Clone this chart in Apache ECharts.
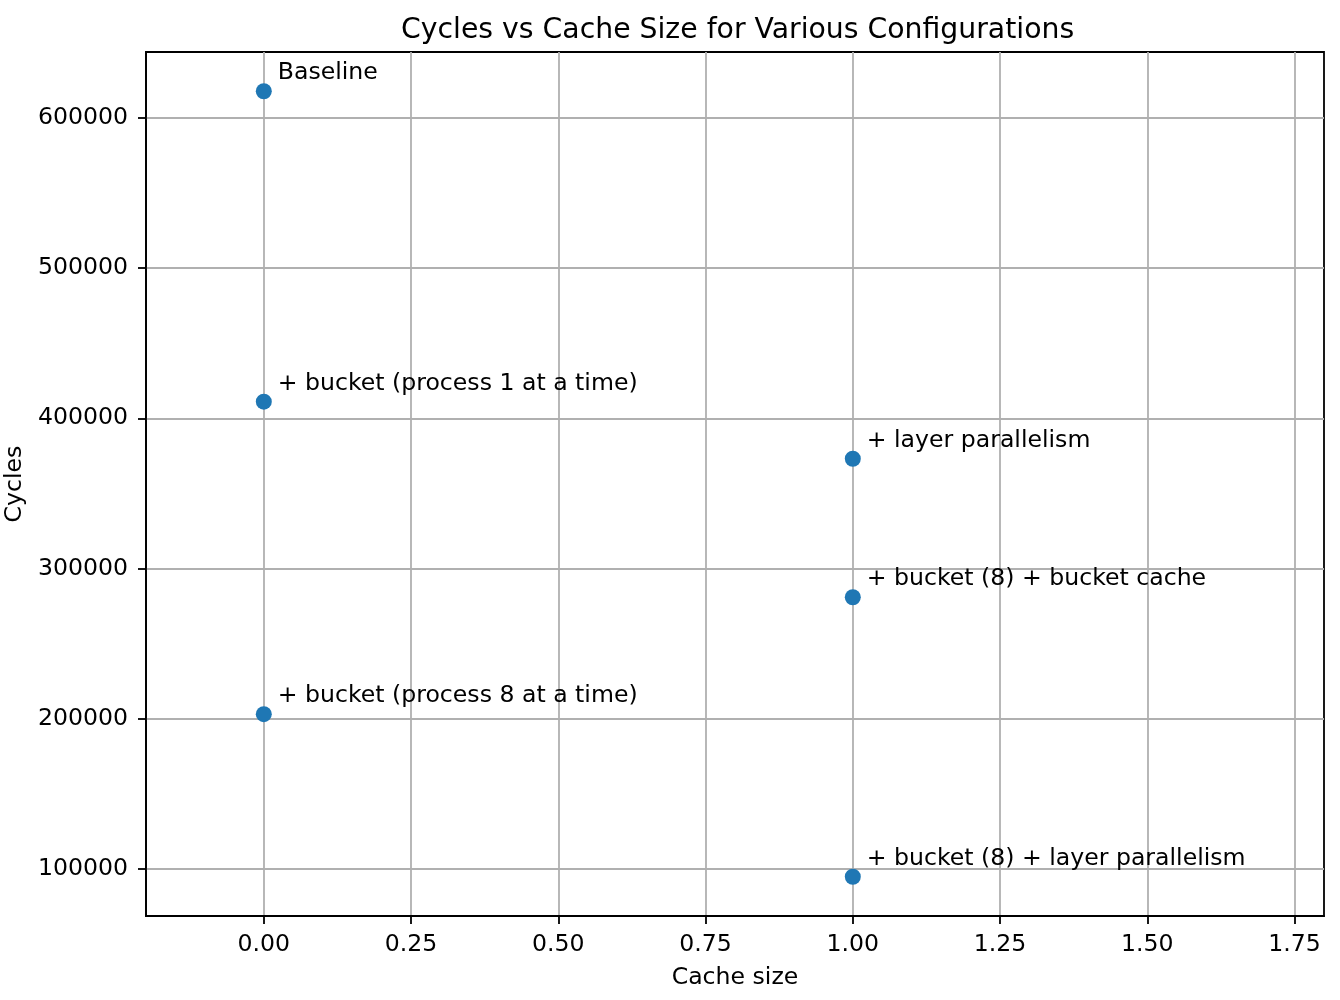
<!DOCTYPE html>
<html>
<head>
<meta charset="utf-8">
<title>Cycles vs Cache Size</title>
<script src="https://cdn.jsdelivr.net/npm/echarts@6/dist/echarts.min.js"></script>
<style>
    html, body { margin: 0; padding: 0; background: #fff; }
    #chart { width: 1340px; height: 1000px; }
</style>
</head>
<body>
<div id="chart"></div>
<script>
// 数据
var configNames = [
    'Baseline',
    '+ bucket (process 1 at a time)',
    '+ bucket (process 8 at a time)',
    '+ layer parallelism',
    '+ bucket (8) + bucket cache',
    '+ bucket (8) + layer parallelism'
];
var cacheSizes = [0, 0, 0, 1, 1, 1];
var cycles = [617700, 411100, 203100, 373100, 280900, 94900];

// 刻度
var xTicks = [0, 0.25, 0.5, 0.75, 1, 1.25, 1.5, 1.75];
var yTicks = [100000, 200000, 300000, 400000, 500000, 600000];
var xLimits = [-0.2, 1.8];

var FONT = 'DejaVu Sans';
var FS = 23.6;

// y轴范围: 数据上下各留5%
var yMin = Math.min.apply(null, cycles);
var yMax = Math.max.apply(null, cycles);
var yPad = (yMax - yMin) * 0.05;

var points = [];
for (var i = 0; i < configNames.length; i++) {
    points.push({ name: configNames[i], value: [cacheSizes[i], cycles[i]] });
}

var axisLineStyle = { color: '#000', width: 1.8 };
var gridLineStyle = { color: '#b0b0b0', width: 1.8 };

var chart = echarts.init(document.getElementById('chart'));
chart.setOption({
    animation: false,
    backgroundColor: '#fff',
    title: {
        text: 'Cycles vs Cache Size for Various Configurations',
        left: 396,
        top: 12,
        textStyle: { fontFamily: FONT, fontSize: 28.3, fontWeight: 'normal', color: '#000' }
    },
    grid: {
        left: 146, right: 16, top: 52, bottom: 84,
        show: true,
        borderColor: '#000',
        borderWidth: 1.8,
        outerBoundsMode: 'none'
    },
    xAxis: {
        type: 'value',
        min: xLimits[0],
        max: xLimits[1],
        name: 'Cache size',
        nameLocation: 'middle',
        nameGap: 50,
        nameTextStyle: { fontFamily: FONT, fontSize: FS, color: '#000' },
        axisLine: { show: true, onZero: false, lineStyle: axisLineStyle },
        axisTick: { show: true, length: 8, customValues: xTicks, lineStyle: axisLineStyle },
        axisLabel: {
            customValues: xTicks,
            margin: 17,
            fontFamily: FONT, fontSize: FS, color: '#000',
            formatter: function (v) { return v.toFixed(2); }
        },
        splitLine: { show: true, lineStyle: gridLineStyle }
    },
    yAxis: {
        type: 'value',
        min: yMin - yPad,
        max: yMax + yPad,
        name: 'Cycles',
        nameLocation: 'middle',
        nameGap: 116,
        nameTextStyle: { fontFamily: FONT, fontSize: FS, color: '#000' },
        axisLine: { show: true, onZero: false, lineStyle: axisLineStyle },
        axisTick: { show: true, length: 8, customValues: yTicks, lineStyle: axisLineStyle },
        axisLabel: {
            customValues: yTicks,
            margin: 18,
            fontFamily: FONT, fontSize: FS, color: '#000',
            formatter: function (v) { return String(v); }
        },
        splitLine: { show: true, lineStyle: gridLineStyle }
    },
    series: [{
        type: 'scatter',
        data: points,
        symbolSize: 16,
        itemStyle: { color: '#1f77b4', opacity: 1 },
        label: {
            show: true,
            position: 'right',
            distance: 5,
            offset: [1, -18],
            fontFamily: FONT,
            fontSize: FS,
            color: '#000',
            formatter: function (p) { return p.name; }
        },
        emphasis: { disabled: true }
    }]
});
</script>
</body>
</html>
